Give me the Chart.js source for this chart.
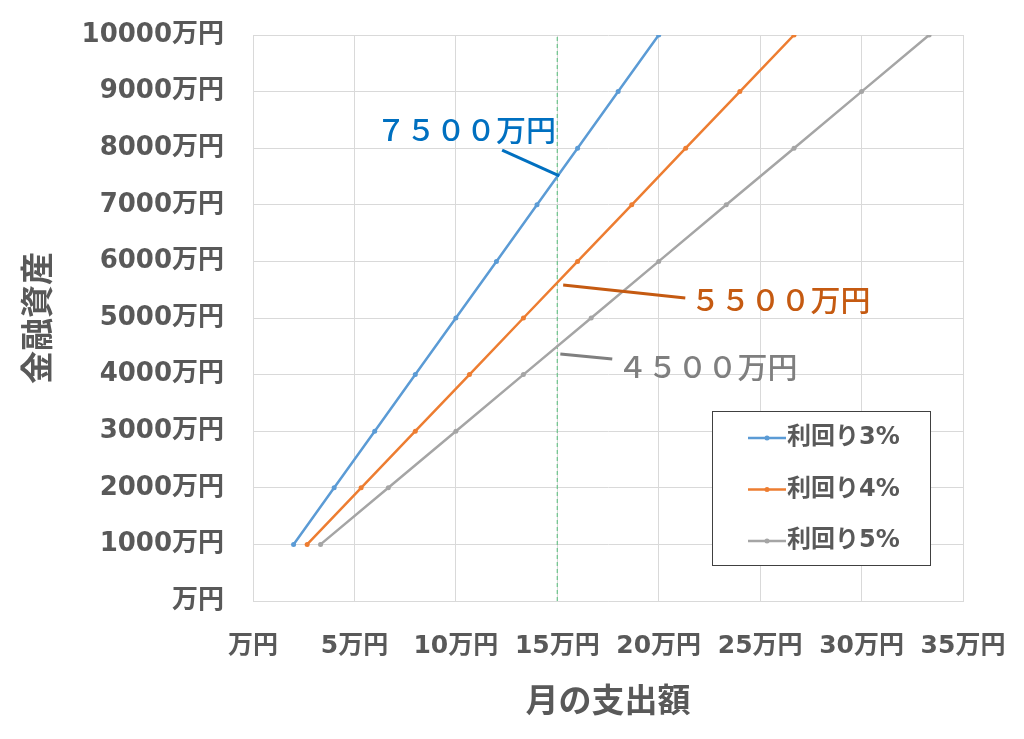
<!DOCTYPE html>
<html>
<head>
<meta charset="utf-8">
<script src="https://cdn.jsdelivr.net/npm/chart.js@4"></script>
<style>
  body { margin: 0; background: #fff; }
  #wrap { width: 1024px; height: 739px; }
</style>
</head>
<body>
<div id="wrap"><canvas id="chart" width="1024" height="739"></canvas></div>
<script>
// 総資産（万円）
const assets = [1000, 2000, 3000, 4000, 5000, 6000, 7000, 8000, 9000, 10000];
// 月の支出額（万円） 各利回り
const spend3 = [2, 4, 6, 8, 10, 12, 14, 16, 18, 20];
const spend4 = [2.67, 5.33, 8, 10.67, 13.33, 16, 18.67, 21.33, 24, 26.67];
const spend5 = [3.33, 6.67, 10, 13.33, 16.67, 20, 23.33, 26.67, 30, 33.33];
const seriesNames = ['利回り3%', '利回り4%', '利回り5%'];
const seriesColors = ['#5b9bd5', '#ed7d31', '#a5a5a5'];
const guideX = 15;

// 注記（データ座標）
const notes = [
  {text: '７５００万円', color: '#0070c0', tx: 10.5, ty: 8330, from: [12.28, 7968], to: [15.1, 7509]},
  {text: '５５００万円', color: '#c55a11', tx: 26.0, ty: 5318, from: [21.31, 5353], to: [15.29, 5583]},
  {text: '４５００万円', color: '#7f7f7f', tx: 22.4, ty: 4134, from: [17.71, 4276], to: [15.15, 4364]}
];

const FONT = "'DejaVu Sans', 'Noto Sans CJK JP', sans-serif";
const GRAY = '#595959';

function toPoints(xs) {
  return xs.map((x, i) => ({x: x, y: assets[i]}));
}

function noPad(scale) {
  scale.paddingTop = 0;
  scale.paddingBottom = 0;
  scale.paddingLeft = 0;
  scale.paddingRight = 0;
}

const lineSets = [spend3, spend4, spend5].map((xs, i) => ({
  label: seriesNames[i],
  data: toPoints(xs),
  borderColor: seriesColors[i],
  backgroundColor: seriesColors[i],
  borderWidth: 2.5,
  pointRadius: 2.5,
  pointBorderWidth: 0,
  tension: 0
}));

lineSets.push({
  label: 'guide',
  data: [{x: guideX, y: 0}, {x: guideX, y: 10000}],
  borderColor: '#6cc48a',
  borderWidth: 1.2,
  borderDash: [4, 3],
  pointRadius: 0
});

const notePlugin = {
  id: 'notes',
  afterDatasetsDraw(chart) {
    const ctx = chart.ctx;
    const xs = chart.scales.x, ys = chart.scales.y;
    ctx.save();
    notes.forEach(n => {
      ctx.strokeStyle = n.color;
      ctx.lineWidth = 3;
      ctx.beginPath();
      ctx.moveTo(xs.getPixelForValue(n.from[0]), ys.getPixelForValue(n.from[1]));
      ctx.lineTo(xs.getPixelForValue(n.to[0]), ys.getPixelForValue(n.to[1]));
      ctx.stroke();
      ctx.fillStyle = n.color;
      ctx.font = "500 30px 'Noto Sans CJK JP'";
      ctx.textAlign = 'center';
      ctx.textBaseline = 'middle';
      ctx.fillText(n.text, xs.getPixelForValue(n.tx), ys.getPixelForValue(n.ty));
    });

    // 凡例
    const bx = 712, by = 411, bw = 218, bh = 154;
    ctx.fillStyle = '#fff';
    ctx.fillRect(bx, by, bw, bh);
    ctx.strokeStyle = '#404040';
    ctx.lineWidth = 1;
    ctx.strokeRect(bx + 0.5, by + 0.5, bw, bh);
    seriesNames.forEach((name, i) => {
      const y = 438 + i * 51.5;
      ctx.strokeStyle = seriesColors[i];
      ctx.lineWidth = 2.5;
      ctx.beginPath();
      ctx.moveTo(748, y);
      ctx.lineTo(786, y);
      ctx.stroke();
      ctx.fillStyle = seriesColors[i];
      ctx.beginPath();
      ctx.arc(767, y, 2.5, 0, Math.PI * 2);
      ctx.fill();
      ctx.fillStyle = GRAY;
      ctx.font = "bold 24px " + FONT;
      ctx.textAlign = 'left';
      ctx.textBaseline = 'middle';
      ctx.fillText(name, 787, y);
    });
    ctx.restore();
  }
};

new Chart(document.getElementById('chart').getContext('2d'), {
  type: 'line',
  data: {datasets: lineSets},
  options: {
    responsive: false,
    animation: false,
    layout: {padding: {top: 35, right: 61, left: 0, bottom: 0}},
    plugins: {legend: {display: false}, tooltip: {enabled: false}},
    scales: {
      x: {
        type: 'linear',
        min: 0, max: 35,
        afterFit(scale) { scale.height = 138; noPad(scale); },
        grid: {color: '#d9d9d9', drawTicks: false},
        border: {color: '#d9d9d9'},
        ticks: {
          stepSize: 5,
          padding: 30,
          color: GRAY,
          font: {family: FONT, size: 25, weight: 'bold'},
          maxRotation: 0,
          callback: v => v === 0 ? '万円' : v + '万円'
        },
        title: {
          display: true,
          text: '月の支出額',
          color: GRAY,
          font: {family: "'Noto Sans CJK JP'", size: 33, weight: 'bold'},
          padding: {top: 20, bottom: 20}
        }
      },
      y: {
        min: 0, max: 10000,
        afterFit(scale) { scale.width = 253; noPad(scale); },
        grid: {color: '#d9d9d9', drawTicks: false},
        border: {color: '#d9d9d9'},
        ticks: {
          stepSize: 1000,
          padding: 29,
          color: GRAY,
          font: {family: FONT, size: 26, weight: 'bold'},
          callback: v => v === 0 ? '万円' : v + '万円'
        },
        title: {
          display: true,
          text: '金融資産',
          color: GRAY,
          font: {family: "'Noto Sans CJK JP'", size: 33, weight: 'bold'},
          padding: {top: 17, bottom: 17}
        }
      }
    }
  },
  plugins: [notePlugin]
});
</script>
</body>
</html>
